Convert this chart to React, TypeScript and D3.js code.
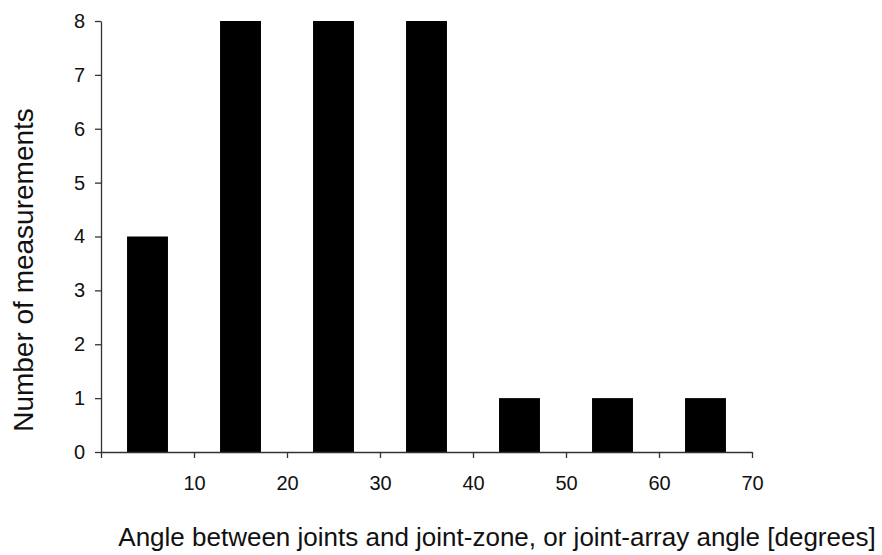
import { useEffect, useRef } from 'react';
import * as d3 from 'd3';

const binStarts = [0, 10, 20, 30, 40, 50, 60];
const counts = [4, 8, 8, 8, 1, 1, 1];
const yTicks = [0, 1, 2, 3, 4, 5, 6, 7, 8];
const xTicks = [10, 20, 30, 40, 50, 60, 70];

const App = () => {
  const ref = useRef(null);
  const width = 882;
  const height = 555;
  const margin = { left: 101, right: 130, top: 21, bottom: 103 };

  useEffect(() => {
    if (!ref.current) return;
    const svg = d3.select(ref.current);
    svg.selectAll('*').remove();
    svg.attr('width', width).attr('height', height);

    const x = d3.scaleLinear().domain([0, 70]).range([margin.left, width - margin.right]);
    const y = d3.scaleLinear().domain([0, 8]).range([height - margin.bottom, margin.top]);
    const font = '"Liberation Sans", Arial, sans-serif';

    // bars: centred in each 10° bin, about 4.4° wide
    const barW = 4.4;
    svg
      .selectAll('.bar')
      .data(counts)
      .enter()
      .append('rect')
      .attr('class', 'bar')
      .attr('x', (d, i) => x(binStarts[i] + 5 - barW / 2))
      .attr('y', (d) => y(d))
      .attr('width', x(barW) - x(0))
      .attr('height', (d) => y(0) - y(d))
      .attr('fill', '#000');

    const yAxis = svg
      .append('g')
      .attr('transform', `translate(${margin.left}, 0)`)
      .call(d3.axisLeft(y).tickValues(yTicks).tickSize(6).tickSizeOuter(0).tickPadding(10));
    yAxis.select('.domain').attr('stroke', '#333').attr('stroke-width', 1.3);
    yAxis.selectAll('line').attr('stroke', '#333').attr('stroke-width', 1.3);
    yAxis.selectAll('text').style('font-family', font).style('font-size', '20px').attr('fill', '#111');

    const xAxis = svg
      .append('g')
      .attr('transform', `translate(0, ${y(0)})`)
      .call(d3.axisBottom(x).tickValues([0, ...xTicks]).tickSize(6).tickSizeOuter(0).tickFormat((d) => (d === 0 ? '' : String(d))).tickPadding(18));
    xAxis.select('.domain').attr('stroke', '#333').attr('stroke-width', 1.3);
    xAxis.selectAll('line').attr('stroke', '#333').attr('stroke-width', 1.3);
    xAxis.selectAll('text').style('font-family', font).style('font-size', '20px').attr('fill', '#111');

    svg
      .append('text')
      .attr('x', 497)
      .attr('y', 546)
      .attr('text-anchor', 'middle')
      .style('font-family', font)
      .style('font-size', '26px')
      .attr('fill', '#111')
      .text('Angle between joints and joint-zone, or joint-array angle [degrees]');

    svg
      .append('text')
      .attr('transform', `translate(33, 270) rotate(-90)`)
      .attr('text-anchor', 'middle')
      .style('font-family', font)
      .style('font-size', '28px')
      .attr('fill', '#111')
      .text('Number of measurements');
  }, []);

  return (
    <div style={{ position: 'absolute', left: 0, top: 0 }}>
      <svg ref={ref} style={{ display: 'block' }} />
    </div>
  );
};

export default App;
